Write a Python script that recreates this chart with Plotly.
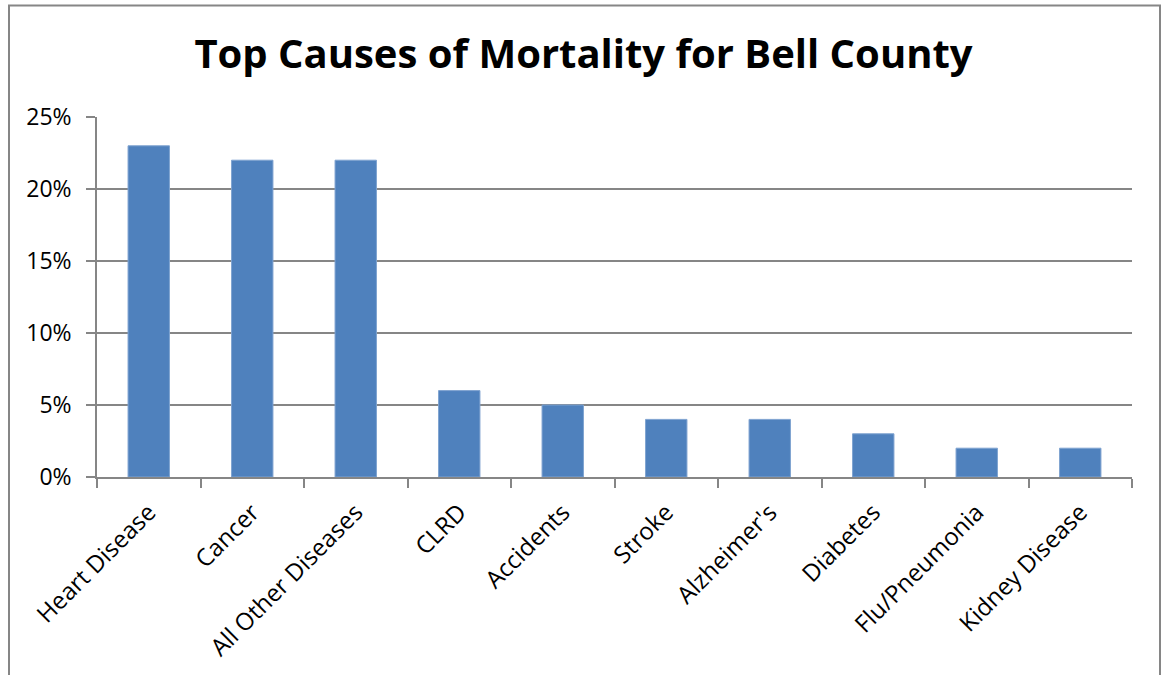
import plotly.graph_objects as go

categories = ["Heart Disease", "Cancer", "All Other Diseases", "CLRD", "Accidents",
              "Stroke", "Alzheimer's", "Diabetes", "Flu/Pneumonia", "Kidney Disease"]
values = [0.23, 0.22, 0.22, 0.06, 0.05, 0.04, 0.04, 0.03, 0.02, 0.02]
y_ticks = [0, 0.05, 0.10, 0.15, 0.20, 0.25]

W, H = 1162, 675
ML, MR, MT, MB = 97, 30, 117, 196
pw, ph = W - ML - MR, H - MT - MB

def px_to_paper_x(x):
    return (x - ML) / pw

def px_to_paper_y(y):
    return (H - MB - y) / ph

fig = go.Figure(go.Bar(
    x=categories, y=values,
    marker=dict(color="#4F81BD", line=dict(color="#7FA3D0", width=1)),
    width=0.4,
))

fig.update_layout(
    width=W, height=H,
    margin=dict(l=ML, r=MR, t=MT, b=MB),
    paper_bgcolor="white", plot_bgcolor="white",
    showlegend=False,
    font=dict(family="Open Sans", size=24, color="black"),
    title=dict(text="<b>Top Causes of Mortality for Bell County</b>",
               font=dict(family="Open Sans", size=40, color="black"),
               x=583.5 / W, xref="container", xanchor="center",
               y=1 - 54 / H, yref="container", yanchor="middle"),
    shapes=[dict(type="rect", xref="paper", yref="paper",
                 x0=px_to_paper_x(9), x1=px_to_paper_x(1160),
                 y0=px_to_paper_y(700), y1=px_to_paper_y(5),
                 line=dict(color="#868686", width=2), fillcolor="rgba(0,0,0,0)", layer="below")],
)

fig.update_xaxes(
    type="category", tickangle=-45, tickson="boundaries",
    ticks="outside", ticklen=9, tickcolor="#868686", tickwidth=1.5,
    showline=True, linecolor="#868686", linewidth=1.5,
    showgrid=False, tickfont=dict(size=24, family="Open Sans"),
    ticklabelstandoff=10,
)
fig.update_yaxes(
    range=[0, 0.25], tickvals=y_ticks, tickformat=".0%",
    ticks="outside", ticklen=9, tickcolor="#868686", tickwidth=1.5,
    showline=True, linecolor="#868686", linewidth=1.5,
    showgrid=True, gridcolor="#868686", gridwidth=1.5,
    zeroline=False, tickfont=dict(size=23, family="Open Sans"),
    ticklabelstandoff=10,
)

fig.write_html("out.html", config={"displayModeBar": False},
               post_script="document.body.style.margin='0px';")
